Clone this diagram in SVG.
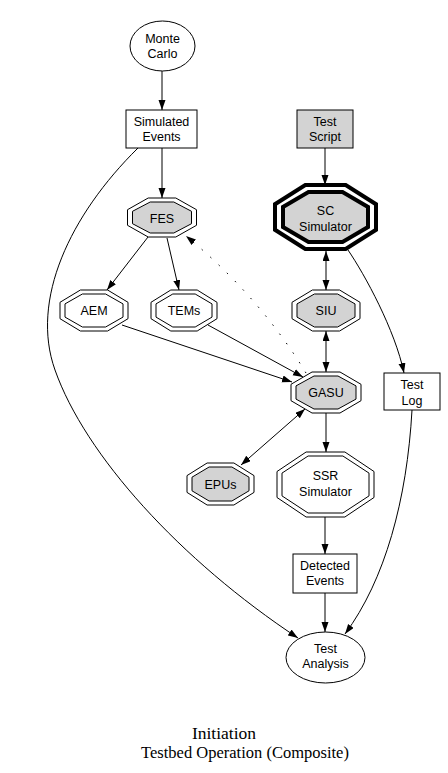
<svg xmlns="http://www.w3.org/2000/svg" width="448" height="773" viewBox="0 0 448 773">
<style>
.n{fill:#ffffff;stroke:#000;stroke-width:1}
.g{fill:#d3d3d3;stroke:#000;stroke-width:1}
.t{font-family:"Liberation Sans",Arial,sans-serif;font-size:12.5px;text-anchor:middle;fill:#000}
.e{fill:none;stroke:#000;stroke-width:1}
.d{fill:none;stroke:#000;stroke-width:1;stroke-dasharray:1.5,10}
.title{font-family:"Liberation Serif","Times New Roman",serif;fill:#000;text-anchor:middle}
</style>
<defs>
<marker id="a" markerUnits="userSpaceOnUse" markerWidth="11" markerHeight="8" refX="10" refY="3.5" orient="auto-start-reverse">
<path d="M0,0 L10,3.5 L0,7 z" fill="#000"/>
</marker>
</defs>
<rect width="448" height="773" fill="#ffffff"/>
<g id="edges">
<path class="e" d="M162,71 L162,110" marker-end="url(#a)"/>
<path class="e" d="M162,148 L162,198" marker-end="url(#a)"/>
<path class="e" d="M138,148 C70,215 30,300 55,370 C85,455 180,560 298,638" marker-end="url(#a)"/>
<path class="e" d="M148,237 L107,290" marker-end="url(#a)"/>
<path class="e" d="M167,238 L179,290" marker-end="url(#a)"/>
<path class="d" d="M306,373 C280,330 240,280 186,236" marker-end="url(#a)"/>
<path class="e" d="M122,325 L292,382" marker-end="url(#a)"/>
<path class="e" d="M208,325 L303,377" marker-end="url(#a)"/>
<path class="e" d="M325,148 L325,185" marker-end="url(#a)"/>
<path class="e" d="M326,251 L326,290" marker-start="url(#a)" marker-end="url(#a)"/>
<path class="e" d="M326,331 L326,372" marker-start="url(#a)" marker-end="url(#a)"/>
<path class="e" d="M348,250 C365,275 395,330 404,373" marker-end="url(#a)"/>
<path class="e" d="M305,409 L241,465" marker-start="url(#a)" marker-end="url(#a)"/>
<path class="e" d="M326,413 L326,452" marker-end="url(#a)"/>
<path class="e" d="M325,517 L325,554" marker-end="url(#a)"/>
<path class="e" d="M325,593 L325,632" marker-end="url(#a)"/>
<path class="e" d="M412,410 C407,500 385,580 345,634" marker-end="url(#a)"/>
</g>
<g id="monte-carlo">
<ellipse class="n" cx="162.5" cy="46" rx="32.5" ry="25"/>
<text class="t" x="162.5" y="43">Monte</text>
<text class="t" x="162.5" y="57.5">Carlo</text>
</g>
<g id="simulated-events">
<rect class="n" x="126" y="110" width="71" height="38"/>
<text class="t" x="161.5" y="126">Simulated</text>
<text class="t" x="161.5" y="141">Events</text>
</g>
<g id="test-script">
<rect class="g" x="297" y="110" width="56" height="38"/>
<text class="t" x="325" y="126">Test</text>
<text class="t" x="325" y="141">Script</text>
</g>
<g id="fes">
<polygon class="n" points="148.2,198 175.8,198 196.5,209.7 196.5,225.3 175.8,237 148.2,237 127.5,225.3 127.5,209.7"/>
<polygon class="g" points="150.2,202 173.8,202 191.5,211.3 191.5,223.7 173.8,233 150.2,233 132.5,223.7 132.5,211.3"/>
<text class="t" x="162" y="222.5">FES</text>
</g>
<g id="sc-simulator">
<polygon fill="#ffffff" stroke="#000" stroke-width="4" points="305.3,185 345.7,185 376,204.2 376,229.8 345.7,249 305.3,249 275,229.8 275,204.2"/>
<polygon fill="#d3d3d3" stroke="#000" stroke-width="4" points="308.5,192 342.5,192 368,207 368,227 342.5,242 308.5,242 283,227 283,207"/>
<text class="t" x="325.5" y="215">SC</text>
<text class="t" x="325.5" y="230.5">Simulator</text>
</g>
<g id="aem">
<polygon class="n" points="80.4,290 107.6,290 128,302.3 128,318.7 107.6,331 80.4,331 60,318.7 60,302.3"/>
<polygon class="n" points="82.4,294 105.6,294 123,303.9 123,317.1 105.6,327 82.4,327 65,317.1 65,303.9"/>
<text class="t" x="94" y="315">AEM</text>
</g>
<g id="tems">
<polygon class="n" points="170.8,290 197.2,290 217,302.3 217,318.7 197.2,331 170.8,331 151,318.7 151,302.3"/>
<polygon class="n" points="172.8,294 195.2,294 212,303.9 212,317.1 195.2,327 172.8,327 156,317.1 156,303.9"/>
<text class="t" x="184" y="315">TEMs</text>
</g>
<g id="siu">
<polygon class="n" points="312.4,290 339.6,290 360,302.3 360,318.7 339.6,331 312.4,331 292,318.7 292,302.3"/>
<polygon class="g" points="314.4,294 337.6,294 355,303.9 355,317.1 337.6,327 314.4,327 297,317.1 297,303.9"/>
<text class="t" x="326" y="315">SIU</text>
</g>
<g id="gasu">
<polygon class="n" points="312,372 340,372 361,384.3 361,400.7 340,413 312,413 291,400.7 291,384.3"/>
<polygon class="g" points="314,376 338,376 356,385.9 356,399.1 338,409 314,409 296,399.1 296,385.9"/>
<text class="t" x="326" y="397">GASU</text>
</g>
<g id="test-log">
<rect class="n" x="384" y="373" width="56" height="37"/>
<text class="t" x="412" y="389">Test</text>
<text class="t" x="412" y="405">Log</text>
</g>
<g id="epus">
<polygon class="n" points="207.1,463 233.9,463 254,475.6 254,492.4 233.9,505 207.1,505 187,492.4 187,475.6"/>
<polygon class="g" points="209.1,467 231.9,467 249,477.2 249,490.8 231.9,501 209.1,501 192,490.8 192,477.2"/>
<text class="t" x="220.5" y="488.5">EPUs</text>
</g>
<g id="ssr-simulator">
<polygon class="n" points="306.1,452 344.9,452 374,471.5 374,497.5 344.9,517 306.1,517 277,497.5 277,471.5"/>
<polygon class="n" points="308.1,456 342.9,456 369,473.1 369,495.9 342.9,513 308.1,513 282,495.9 282,473.1"/>
<text class="t" x="325.5" y="480">SSR</text>
<text class="t" x="325.5" y="496">Simulator</text>
</g>
<g id="detected-events">
<rect class="n" x="293" y="554" width="64" height="39"/>
<text class="t" x="325" y="570">Detected</text>
<text class="t" x="325" y="585">Events</text>
</g>
<g id="test-analysis">
<ellipse class="n" cx="325.5" cy="657.5" rx="39.5" ry="25.5"/>
<text class="t" x="325.5" y="653">Test</text>
<text class="t" x="325.5" y="668">Analysis</text>
</g>
<g id="title">
<text class="title" x="224" y="739" font-size="17.5">Initiation</text>
<text class="title" x="245" y="758" font-size="16.5">Testbed Operation (Composite)</text>
</g>
</svg>
